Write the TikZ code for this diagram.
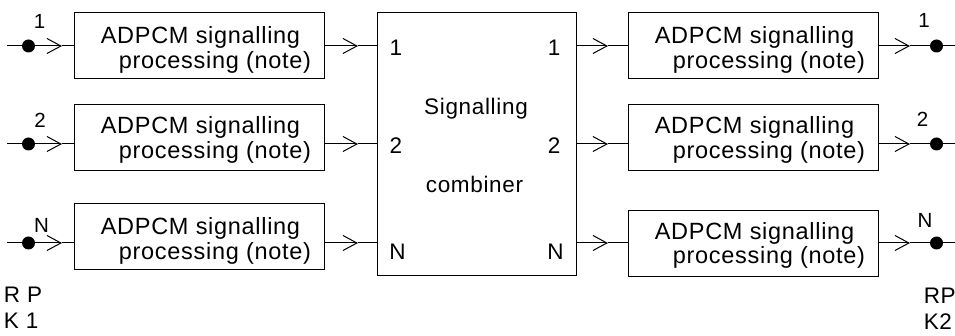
\documentclass[tikz,border=0pt]{standalone}
\usepackage{fontspec}
\setmainfont{Liberation Sans}
\newfontfamily\bxf{Liberation Sans}[LetterSpace=3]
\newfontfamily\rpf{Liberation Sans}[LetterSpace=32]
\usetikzlibrary{arrows.meta}
\begin{document}
\begin{tikzpicture}[x=1pt,y=-1pt,line width=1pt,
  pbox/.style={draw, minimum width=250pt, minimum height=66pt, inner sep=0pt},
  cbox/.style={draw, minimum width=199pt, minimum height=263pt, inner sep=0pt},
  dot/.style={circle, fill, inner sep=0pt, minimum size=13pt},
  bt/.style={inner sep=0pt, anchor=base, font=\bxf\fontsize{23.5}{23.5}\selectfont},
  lbl/.style={inner sep=0pt, anchor=base, font=\bxf\fontsize{22.5}{22.5}\selectfont},
  olbl/.style={inner sep=0pt, anchor=base, font=\bxf\fontsize{20.5}{20.5}\selectfont},
  rplbl/.style={inner sep=0pt, anchor=base west},
  barb/.style={-{Straight Barb[length=14pt,width=15pt]}}]
\useasboundingbox (0,0) rectangle (955,336);

% boxes
\node[pbox] (L1) at (199,46) {};
\node[pbox] (L2) at (199,138) {};
\node[pbox] (L3) at (199,236.5) {};
\node[pbox] (R1) at (753,46) {};
\node[pbox] (R2) at (753,138) {};
\node[pbox] (R3) at (753,244) {};
\node[cbox] (C) at (476.5,144.5) {};

% box texts
\node[bt] (L1a) at (200.5,43.3) {ADPCM signalling};
\node[bt] (L1b) at (215,68.3) {processing (note)};
\node[bt] (L2a) at (200.5,133.3) {ADPCM signalling};
\node[bt] (L2b) at (215,158.5) {processing (note)};
\node[bt] (L3a) at (200.5,235) {ADPCM signalling};
\node[bt] (L3b) at (215,260) {processing (note)};
\node[bt] (R1a) at (754.5,43.3) {ADPCM signalling};
\node[bt] (R1b) at (769,68.3) {processing (note)};
\node[bt] (R2a) at (754.5,133.3) {ADPCM signalling};
\node[bt] (R2b) at (769,158.5) {processing (note)};
\node[bt] (R3a) at (754.5,239.3) {ADPCM signalling};
\node[bt] (R3b) at (769,263.5) {processing (note)};

% combiner texts
\node[lbl] (Ct1) at (476,115) {Signalling};
\node[lbl] (Ct2) at (474.5,193) {combiner};
\node[lbl] (CiL1) at (396,56) {1};
\node[lbl] (CiL2) at (396,154) {2};
\node[lbl] (CiLN) at (397.5,260) {N};
\node[lbl] (CiR1) at (554,56) {1};
\node[lbl] (CiR2) at (554,154) {2};
\node[lbl] (CiRN) at (555.5,260) {N};

% coordinates
\foreach \i/\y in {1/46,2/144,3/243}{
  \coordinate (s\i) at (7,\y);
  \coordinate (a\i) at (62,\y);
  \coordinate (b\i) at (358,\y);
  \coordinate (c\i) at (608,\y);
  \coordinate (d\i) at (910,\y);
  \coordinate (e\i) at (955,\y);
}

% connectors
\foreach \i in {1,2,3}{
  \draw[barb] (s\i) -- (a\i);
  \draw (a\i) -- (a\i -| L\i.west);
  \draw[barb] (L\i.east |- b\i) -- (b\i);
  \draw (b\i) -- (b\i -| C.west);
  \draw[barb] (C.east |- c\i) -- (c\i);
  \draw (c\i) -- (c\i -| R\i.west);
  \draw[barb] (R\i.east |- d\i) -- (d\i);
  \draw (d\i) -- (e\i);
}

% terminal dots
\node[dot] (p1) at (28.5,46) {};
\node[dot] (p2) at (28.5,144) {};
\node[dot] (p3) at (28.5,243) {};
\node[dot] (q1) at (936.5,46) {};
\node[dot] (q2) at (936.5,144) {};
\node[dot] (q3) at (936.5,243) {};

% outer labels
\node[olbl] (OL1) at (39.5,29) {1};
\node[olbl] (OL2) at (40,128) {2};
\node[olbl] (OLN) at (41.5,233) {N};
\node[olbl] (OR1) at (924,28) {1};
\node[olbl] (OR2) at (922.5,127) {2};
\node[olbl] (ORN) at (925,228) {N};

% reference points
\node[rplbl, font=\rpf\fontsize{22.5}{22.5}\selectfont] (RP1) at (3.3,303) {RP};
\node[rplbl, font=\rpf\fontsize{22.5}{22.5}\selectfont] (K1) at (3.3,329) {K1};
\node[rplbl, font=\bxf\fontsize{22.5}{22.5}\selectfont] (RP2) at (923.3,304) {RP};
\node[rplbl, font=\bxf\fontsize{22.5}{22.5}\selectfont] (K2) at (923.3,330) {K2};
\end{tikzpicture}
\end{document}
